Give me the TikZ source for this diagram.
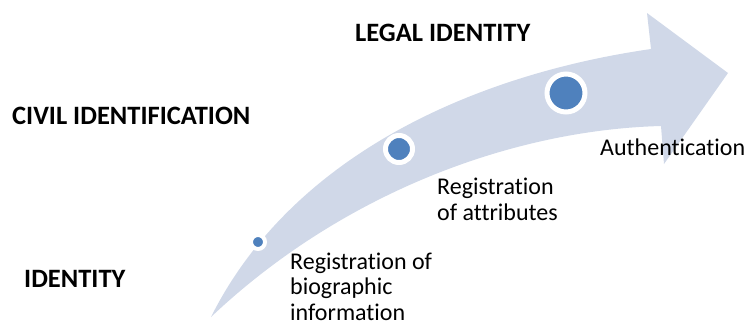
\documentclass[tikz,border=0pt]{standalone}
\usepackage{fontspec}
\setmainfont{Carlito}[Ligatures=NoCommon]
\usepackage{tikz}
\definecolor{arrowgray}{RGB}{208,216,232}
\definecolor{dotblue}{RGB}{79,129,189}

\begin{document}
\begin{tikzpicture}[x=1pt, y=-1pt,
  txt/.style={font=\fontsize{24}{25.5}\selectfont, inner sep=0, align=left, anchor=base west},
  bigtxt/.style={font=\fontsize{26.5}{30}\selectfont\bfseries, inner sep=0, anchor=base west},
  dot/.style={circle, fill=dotblue, draw=white, inner sep=0}]
\useasboundingbox (0,0) rectangle (745,322);
\fill[arrowgray] (211,317) .. controls (291,157) and (471,75) .. (651,49) -- (647,13) -- (728,73) -- (664,164) -- (661,126) .. controls (511,130) and (341,194) .. cycle;

\node[dot, minimum size=14pt, line width=4pt] (d1) at (258,242) {};
\node[dot, minimum size=27pt, line width=5pt] (d2) at (399,149) {};
\node[dot, minimum size=38pt, line width=5pt] (d3) at (566,93) {};

\node[bigtxt] (legal) at (355,41) {LEGAL IDENTITY};
\node[bigtxt] (civil) at (12,124) {CIVIL IDENTIFICATION};
\node[bigtxt] (ident) at (24,287) {IDENTITY};
\node[txt] (bio) at (290,320) {Registration of\\biographic\\information};
\node[txt] (attr) at (437,220) {Registration\\of attributes};
\node[txt] (auth) at (600,155) {Authentication};
\end{tikzpicture}
\end{document}
